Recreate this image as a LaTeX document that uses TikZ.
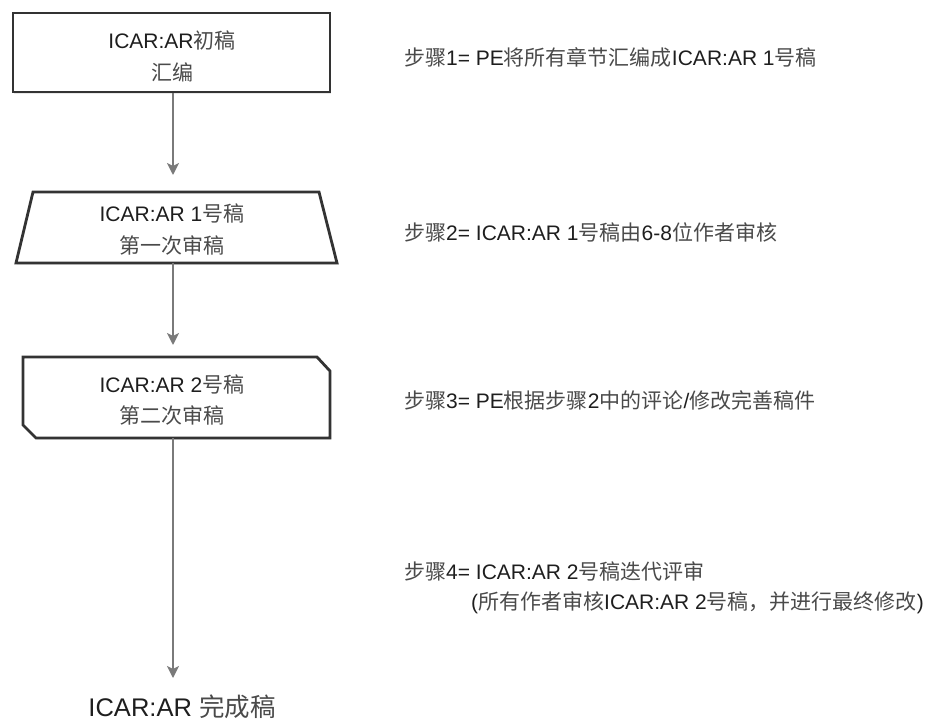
\documentclass[tikz,border=0pt]{standalone}
\usepackage{fontspec}
\setmainfont{Liberation Sans}
\newfontfamily\cjkfont{Noto Sans CJK SC}
\usetikzlibrary{arrows.meta,shadows}
\definecolor{boxline}{HTML}{333333}
\definecolor{arrline}{HTML}{7A7A7A}
\definecolor{txt}{HTML}{1E1E1E}
\definecolor{cjktxt}{HTML}{4A4A4A}
\newcommand{\zh}[1]{{\cjkfont\color{cjktxt}#1}}
\tikzset{
  boxshape/.style={draw=boxline, line width=2.8pt, fill=white, line join=miter,
    drop shadow={shadow xshift=1pt, shadow yshift=-1.5pt, opacity=0.18}},
  boxtext/.style={font=\fontsize{21}{30}\selectfont, text=txt, align=center, inner sep=0pt},
  steptext/.style={font=\fontsize{21}{30}\selectfont, text=txt, anchor=west, inner sep=0pt},
  flowarrow/.style={draw=arrline, line width=2.6pt, -{Stealth[length=12pt,width=12pt,inset=3pt]}},
}
\begin{document}
\begin{tikzpicture}[x=1pt,y=-1pt]
\useasboundingbox (0,0) rectangle (936,724);
% boxes
\node[boxshape, rectangle, inner sep=0pt, minimum width=317pt, minimum height=79pt] (b1) at (171.5,52.5) {};
\draw[boxshape] (33,192) -- (319,192) -- (337,263) -- (16,263) -- cycle;
\coordinate (b2s) at (173,263);
\draw[boxshape] (23,357) -- (317,357) -- (330,371) -- (330,438) -- (36,438) -- (23,425) -- cycle;
\coordinate (b3s) at (173,438);
% box texts
\node[boxtext] (t1a) at (172,40) {ICAR:AR\zh{初稿}};
\node[boxtext] (t1b) at (172,72) {\zh{汇编}};
\node[boxtext] (t2a) at (172,213) {ICAR:AR 1\zh{号稿}};
\node[boxtext] (t2b) at (172,245) {\zh{第一次审稿}};
\node[boxtext] (t3a) at (172,384) {ICAR:AR 2\zh{号稿}};
\node[boxtext] (t3b) at (172,415) {\zh{第二次审稿}};
% final
\node[font=\fontsize{25.5}{30}\selectfont, text=txt, inner sep=0pt] (fin) at (182,707) {ICAR:AR \zh{完成稿}};
% arrows
\coordinate (e1) at (173,175);
\coordinate (e2) at (173,345);
\coordinate (e3) at (173,678);
\draw[flowarrow] (b1.south -| e1) -- (e1);
\draw[flowarrow] (b2s) -- (e2);
\draw[flowarrow] (b3s) -- (e3);
% step texts
\node[steptext] (s1) at (404,57) {\zh{步骤}1= PE\zh{将所有章节汇编成}ICAR:AR 1\zh{号稿}};
\node[steptext] (s2) at (404,232) {\zh{步骤}2= ICAR:AR 1\zh{号稿由}6-8\zh{位作者审核}};
\node[steptext] (s3) at (404,400) {\zh{步骤}3= PE\zh{根据步骤}2\zh{中的评论}/\zh{修改完善稿件}};
\node[steptext] (s4a) at (404,571) {\zh{步骤}4= ICAR:AR 2\zh{号稿迭代评审}};
\node[steptext] (s4b) at (471,603) {(\zh{所有作者审核}ICAR:AR 2\zh{号稿，并进行最终修改})};
\end{tikzpicture}
\end{document}
